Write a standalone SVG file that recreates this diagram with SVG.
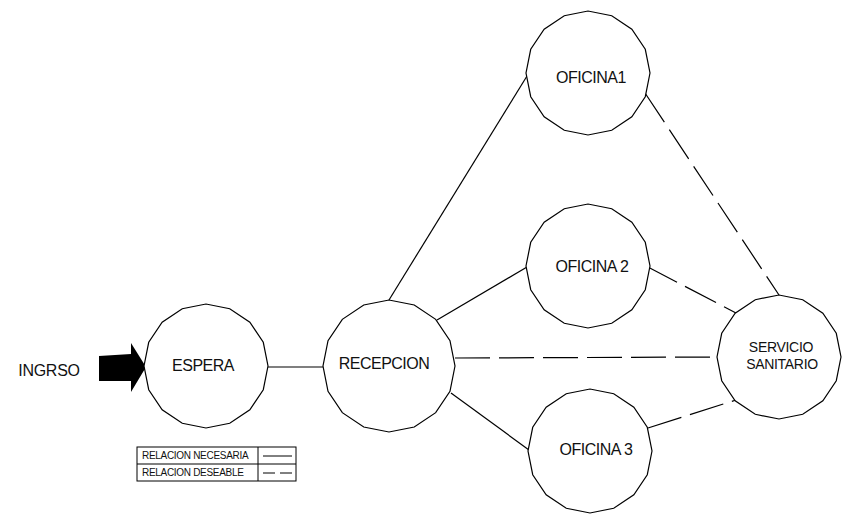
<svg xmlns="http://www.w3.org/2000/svg" xmlns:xlink="http://www.w3.org/1999/xlink" width="846" height="518" viewBox="0 0 846 518">
<style>
.node{fill:#fff;stroke:#000;stroke-width:1.2}
.lbl{font-family:"Liberation Sans",Arial,sans-serif;font-size:16px;letter-spacing:-0.5px;fill:#111;text-anchor:middle}
.sm{font-family:"Liberation Sans",Arial,sans-serif;font-size:14px;letter-spacing:-0.3px;fill:#111;text-anchor:middle}
.solid{stroke:#000;stroke-width:1.2;fill:none}
.dash{stroke:#000;stroke-width:1.2;fill:none;stroke-dasharray:35 9}
.leg{font-family:"Liberation Sans",Arial,sans-serif;font-size:10px;letter-spacing:-0.3px;fill:#111}
</style>
<defs>
<polygon id="p16" points="62,0 57.28,23.73 43.84,43.84 23.73,57.28 0,62 -23.73,57.28 -43.84,43.84 -57.28,23.73 -62,0 -57.28,-23.73 -43.84,-43.84 -23.73,-57.28 0,-62 23.73,-57.28 43.84,-43.84 57.28,-23.73"/>
<polygon id="p16l" points="66,0 60.98,25.26 46.67,46.67 25.26,60.98 0,66 -25.26,60.98 -46.67,46.67 -60.98,25.26 -66,0 -60.98,-25.26 -46.67,-46.67 -25.26,-60.98 0,-66 25.26,-60.98 46.67,-46.67 60.98,-25.26"/>
</defs>
<rect width="846" height="518" fill="#fff"/>
<g id="connectors">
<line class="solid" x1="268" y1="367" x2="323" y2="367"/>
<line class="solid" x1="389" y1="300" x2="527" y2="76"/>
<line class="solid" x1="437" y1="320" x2="527" y2="267"/>
<line class="solid" x1="451" y1="393" x2="529" y2="450"/>
<line class="dash" x1="455" y1="358" x2="717" y2="357"/>
<line class="dash" x1="645" y1="93" x2="779" y2="295"/>
<line class="dash" x1="646" y1="266" x2="736" y2="313"/>
<line class="dash" x1="648" y1="428" x2="736" y2="400"/>
</g>
<g id="ingreso">
<text class="lbl" x="49" y="376" style="letter-spacing:-0.3px">INGRSO</text>
<polygon points="99,356 131,354 131,343 146,367 131,392 131,381 99,381" fill="#000"/>
</g>
<g id="espera">
<use xlink:href="#p16" class="node" x="206" y="366"/>
<text class="lbl" x="203" y="371">ESPERA</text>
</g>
<g id="recepcion">
<use xlink:href="#p16l" class="node" x="389" y="366"/>
<text class="lbl" x="384" y="369">RECEPCION</text>
</g>
<g id="oficina1">
<use xlink:href="#p16" class="node" x="588" y="73"/>
<text class="lbl" x="591" y="83">OFICINA1</text>
</g>
<g id="oficina2">
<use xlink:href="#p16" class="node" x="588" y="266"/>
<text class="lbl" x="592" y="272">OFICINA 2</text>
</g>
<g id="oficina3">
<use xlink:href="#p16" class="node" x="590" y="451"/>
<text class="lbl" x="596" y="455">OFICINA 3</text>
</g>
<g id="servicio">
<use xlink:href="#p16" class="node" x="779" y="357"/>
<text class="sm" x="781" y="352">SERVICIO</text>
<text class="sm" x="782" y="369">SANITARIO</text>
</g>
<g id="legend">
<rect x="137" y="447" width="159" height="34" fill="#fff" stroke="#000" stroke-width="1"/>
<line x1="137" y1="464" x2="296" y2="464" stroke="#000" stroke-width="1"/>
<line x1="258" y1="447" x2="258" y2="481" stroke="#000" stroke-width="1"/>
<text class="leg" x="142" y="459">RELACION NECESARIA</text>
<text class="leg" x="142" y="476">RELACION DESEABLE</text>
<line x1="263" y1="456" x2="292" y2="456" stroke="#000" stroke-width="1"/>
<line x1="263" y1="473" x2="275" y2="473" stroke="#000" stroke-width="1"/>
<line x1="280" y1="473" x2="292" y2="473" stroke="#000" stroke-width="1"/>
</g>
</svg>
